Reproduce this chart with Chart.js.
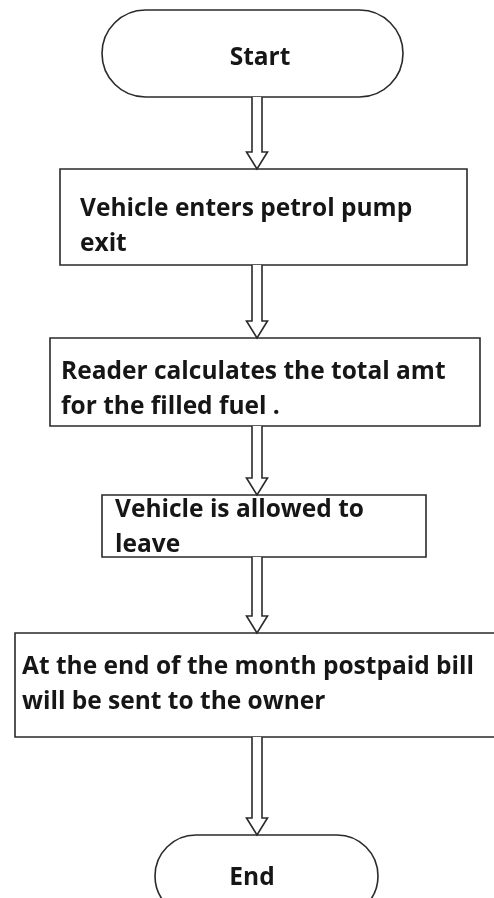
<!DOCTYPE html>
<html>
<head>
<meta charset="utf-8">
<script src="https://cdn.jsdelivr.net/npm/chart.js@4"></script>
<style>
  html, body { margin: 0; padding: 0; background: #fff; }
  canvas { display: block; }
</style>
</head>
<body>
<canvas id="flow-chart" width="494" height="898"></canvas>
<script>
// flowchart data (page units)
const nodeLabels = [
  "Start",
  "Vehicle enters petrol pump\nexit",
  "Reader calculates the total amt\nfor the filled fuel .",
  "Vehicle is allowed to\nleave",
  "At the end of the month postpaid bill\nwill be sent to the owner",
  "End"
];
const nodeShapes = ["terminal", "box", "box", "box", "box", "terminal"];
const nodeLeft   = [102, 60, 50, 102, 15, 155];
const nodeRight  = [403, 467, 480, 426, 510, 378];
const nodeTop    = [10, 169, 338, 495, 633, 835];
const nodeBottom = [97, 265, 426, 557, 737, 917];
const textX      = [260, 80, 61, 115, 22, 252];   // centre for terminals, left edge for boxes
const textBase   = [65, 216, 379, 517, 674, 885]; // baseline of first line
const arrowX = 257;
// end of flowchart data

const lineColor = '#2a2a2a';
const textColor = '#161616';
const lineGap = 35;

const flowPlugin = {
  id: 'flow',
  afterDatasetsDraw: function(chart) {
    const ctx = chart.ctx;
    const xs = chart.scales.x;
    const ys = chart.scales.y;
    const px = function(v) { return xs.getPixelForValue(v); };
    const py = function(v) { return ys.getPixelForValue(v); };

    ctx.save();
    ctx.strokeStyle = lineColor;
    ctx.lineWidth = 1.6;
    ctx.lineJoin = 'miter';

    // nodes
    for (let i = 0; i < nodeLabels.length; i++) {
      const l = px(nodeLeft[i]), r = px(nodeRight[i]);
      const t = py(nodeTop[i]), b = py(nodeBottom[i]);
      ctx.beginPath();
      if (nodeShapes[i] === 'terminal') {
        const rad = (b - t) / 2;
        ctx.moveTo(l + rad, t);
        ctx.lineTo(r - rad, t);
        ctx.arc(r - rad, t + rad, rad, -Math.PI / 2, Math.PI / 2);
        ctx.lineTo(l + rad, b);
        ctx.arc(l + rad, t + rad, rad, Math.PI / 2, Math.PI * 1.5);
        ctx.closePath();
      } else {
        ctx.rect(l, t, r - l, b - t);
      }
      ctx.stroke();

      // text
      ctx.fillStyle = textColor;
      ctx.font = 'bold 24.5px "Open Sans"';
      ctx.textBaseline = 'alphabetic';
      ctx.textAlign = nodeShapes[i] === 'terminal' ? 'center' : 'left';
      const lines = nodeLabels[i].split('\n');
      lines.forEach(function(line, k) {
        ctx.fillText(line, px(textX[i]), py(textBase[i] + k * lineGap));
      });
    }

    // hollow arrows between consecutive nodes
    const shaftHalf = 5, headHalf = 10.5, headLen = 17;
    for (let i = 0; i < nodeLabels.length - 1; i++) {
      const cx = px(arrowX);
      const y0 = py(nodeBottom[i]);
      const y1 = py(nodeTop[i + 1]);
      ctx.beginPath();
      ctx.moveTo(cx - shaftHalf, y0);
      ctx.lineTo(cx - shaftHalf, y1 - headLen);
      ctx.lineTo(cx - headHalf, y1 - headLen);
      ctx.lineTo(cx, y1);
      ctx.lineTo(cx + headHalf, y1 - headLen);
      ctx.lineTo(cx + shaftHalf, y1 - headLen);
      ctx.lineTo(cx + shaftHalf, y0);
      ctx.fillStyle = '#ffffff';
      ctx.fill();
      ctx.stroke();
    }
    ctx.restore();
  }
};

const flowChart = new Chart(document.getElementById('flow-chart'), {
  type: 'scatter',
  data: { datasets: [] },
  options: {
    responsive: false,
    animation: false,
    layout: { padding: 0 },
    plugins: { legend: { display: false }, tooltip: { enabled: false } },
    scales: {
      x: { type: 'linear', min: 0, max: 494, display: false },
      y: { type: 'linear', min: 0, max: 898, reverse: true, display: false }
    }
  },
  plugins: [flowPlugin]
});
</script>
</body>
</html>
